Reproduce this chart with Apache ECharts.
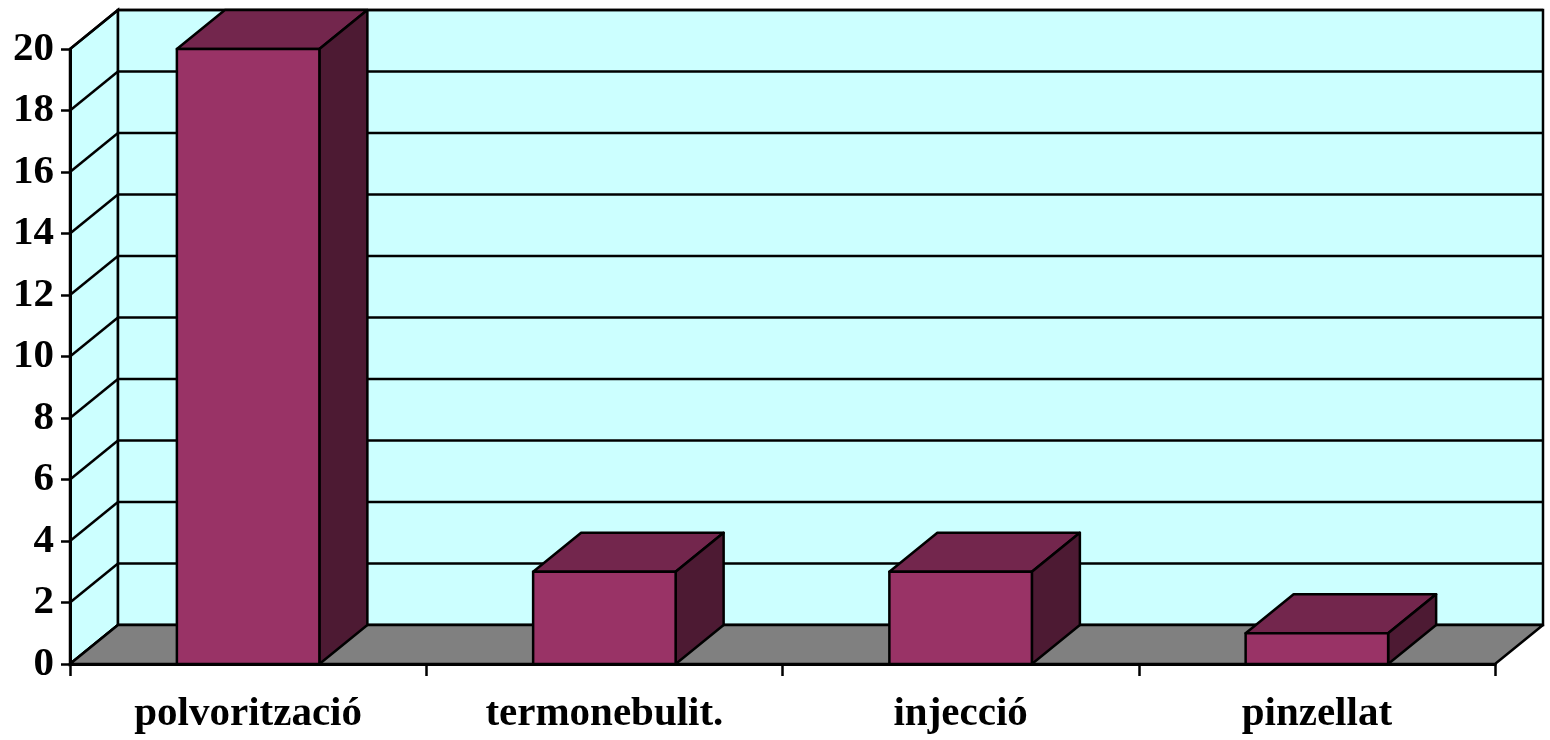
<!DOCTYPE html>
<html>
<head>
    <meta charset="UTF-8">
    <title>3D bars</title>
    <script src="https://cdn.jsdelivr.net/npm/echarts@6/dist/echarts.min.js"></script>
    <style>
        html, body {margin: 0; padding: 0; background: #fff;}
        #main {width: 1550px; height: 740px;}
    </style>
</head>
<body>
<div id="main"></div>
<script>
    // dades
    var categories = ['polvorització', 'termonebulit.', 'injecció', 'pinzellat'];
    var values = [20, 3, 3, 1];
    var yTicks = [0, 2, 4, 6, 8, 10, 12, 14, 16, 18, 20];

    // profunditat de la perspectiva (px)
    var DX = 48, DY = -39;
    var labelFont = {fontFamily: 'Liberation Serif', fontWeight: 'bold', color: '#000'};

    var myChart = echarts.init(document.getElementById('main'));

    function renderWalls(params, api) {
        var cs = params.coordSys;
        var x0 = cs.x, x1 = cs.x + cs.width;
        var yb = api.coord([0, 0])[1];
        var yt = api.coord([0, 20])[1];
        var line = {stroke: '#000', lineWidth: 2.5};
        var children = [];
        // paret lateral
        children.push({type: 'polygon', shape: {points: [[x0, yb], [x0 + DX, yb + DY], [x0 + DX, yt + DY], [x0, yt]]},
            style: {fill: '#CCFFFF', stroke: '#000', lineWidth: 2.5}});
        // paret del fons
        children.push({type: 'rect', shape: {x: x0 + DX, y: yt + DY, width: x1 - x0, height: yb - yt},
            style: {fill: '#CCFFFF', stroke: '#000', lineWidth: 2.5}});
        yTicks.forEach(function (v) {
            var y = api.coord([0, v])[1];
            children.push({type: 'line', shape: {x1: x0, y1: y, x2: x0 + DX, y2: y + DY}, style: line});
            children.push({type: 'line', shape: {x1: x0 + DX, y1: y + DY, x2: x1 + DX, y2: y + DY}, style: line});
        });
        // terra
        children.push({type: 'polygon', shape: {points: [[x0, yb], [x1, yb], [x1 + DX, yb + DY], [x0 + DX, yb + DY]]},
            style: {fill: '#808080', stroke: '#000', lineWidth: 2.5, lineJoin: 'round'}});
        return {type: 'group', children: children};
    }

    function renderBar(params, api) {
        var top = api.coord([api.value(0), api.value(1)]);
        var base = api.coord([api.value(0), 0]);
        var w = api.size([1, 0])[0] * 0.4;
        var l = top[0] - w / 2, r = top[0] + w / 2;
        var yt = top[1], yb = base[1];
        var st = {stroke: '#000', lineWidth: 2.5, lineJoin: 'round'};
        return {
            type: 'group',
            children: [
                {type: 'polygon', shape: {points: [[l, yt], [r, yt], [r + DX, yt + DY], [l + DX, yt + DY]]},
                    style: Object.assign({fill: '#73264D'}, st)},
                {type: 'polygon', shape: {points: [[r, yb], [r + DX, yb + DY], [r + DX, yt + DY], [r, yt]]},
                    style: Object.assign({fill: '#4D1A33'}, st)},
                {type: 'rect', shape: {x: l, y: yt, width: w, height: yb - yt},
                    style: Object.assign({fill: '#993366'}, st)}
            ]
        };
    }

    myChart.setOption({
        animation: false,
        grid: {left: 70, right: 55, top: 49, bottom: 76},
        xAxis: {
            type: 'category',
            data: categories,
            axisLine: {lineStyle: {color: '#000', width: 3}},
            axisTick: {show: true, length: 12, lineStyle: {color: '#000', width: 2.5}},
            axisLabel: Object.assign({fontSize: 41, margin: 30}, labelFont),
            z: 10
        },
        yAxis: {
            type: 'value',
            min: 0,
            max: 20,
            interval: 2,
            splitLine: {show: false},
            axisLine: {show: true, lineStyle: {color: '#000', width: 3}},
            axisTick: {show: true, length: 9, lineStyle: {color: '#000', width: 2.5}},
            axisLabel: Object.assign({fontSize: 41, margin: 16, verticalAlign: 'middle'}, labelFont),
            z: 10
        },
        series: [
            {type: 'custom', renderItem: renderWalls, data: [[0, 0]], silent: true, z: 1},
            {
                type: 'custom',
                renderItem: renderBar,
                data: values.map(function (v, i) { return [i, v]; }),
                encode: {x: 0, y: 1},
                z: 2
            }
        ]
    });
</script>
</body>
</html>
